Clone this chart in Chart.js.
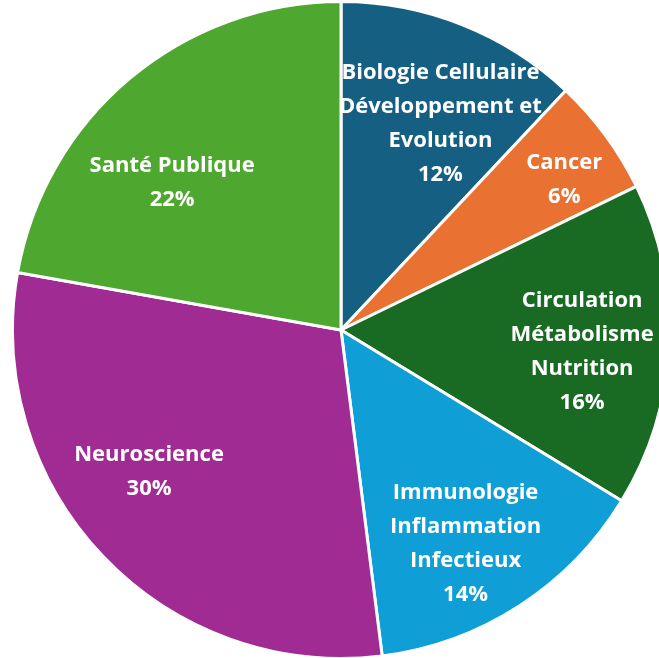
<!DOCTYPE html>
<html>
<head>
<meta charset="utf-8">
<script src="https://cdn.jsdelivr.net/npm/chart.js@4.4.1/dist/chart.umd.min.js"></script>
<style>
  html, body { margin: 0; padding: 0; background: #fff; overflow: hidden; }
  #wrap { position: absolute; left: 0; top: 0; width: 682px; height: 660px; }
</style>
</head>
<body>
<div id="wrap"><canvas id="pieChart"></canvas></div>
<script>
// data
const categories = [
    ['Biologie Cellulaire', 'Développement et', 'Evolution'],
    ['Cancer'],
    ['Circulation', 'Métabolisme', 'Nutrition'],
    ['Immunologie', 'Inflammation', 'Infectieux'],
    ['Neuroscience'],
    ['Santé Publique']
];
const shares = [12.0, 5.8, 15.9, 14.3, 29.8, 22.2];
const percentLabels = ['12%', '6%', '16%', '14%', '30%', '22%'];

const sliceColors = ['#156082', '#E97132', '#196B24', '#0F9ED5', '#A02B93', '#4EA72E'];

// label placement: angle (deg, clockwise from top) and distance as fraction of radius
const labelAngle = [25.7, 56, 95.2, 149.8, 233.6, 311];
const labelDist = [0.698, 0.82, 0.737, 0.754, 0.726, 0.681];

const sliceLabels = {
    id: 'sliceLabels',
    afterDatasetsDraw(chart) {
        const ctx = chart.ctx;
        const arcs = chart.getDatasetMeta(0).data;
        ctx.save();
        ctx.fillStyle = '#ffffff';
        ctx.font = 'bold 22px "Open Sans", Roboto, sans-serif';
        ctx.textAlign = 'center';
        ctx.textBaseline = 'middle';
        const lineH = 34;
        arcs.forEach((arc, i) => {
            const a = labelAngle[i] * Math.PI / 180;
            const r = arc.outerRadius * labelDist[i];
            const cx = arc.x + Math.sin(a) * r;
            const cy = arc.y - Math.cos(a) * r;
            const lines = categories[i].concat([percentLabels[i]]);
            const top = cy - (lines.length - 1) * lineH / 2;
            lines.forEach((t, j) => ctx.fillText(t, cx, top + j * lineH));
        });
        ctx.restore();
    }
};

new Chart(document.getElementById('pieChart'), {
    type: 'pie',
    data: {
        labels: categories.map(c => c.join(' ')),
        datasets: [{
            data: shares,
            backgroundColor: sliceColors,
            borderColor: '#ffffff',
            borderWidth: 3
        }]
    },
    options: {
        responsive: true,
        maintainAspectRatio: false,
        animation: false,
        layout: { padding: 0 },
        plugins: {
            legend: { display: false },
            tooltip: { enabled: false }
        }
    },
    plugins: [sliceLabels]
});
</script>
</body>
</html>
